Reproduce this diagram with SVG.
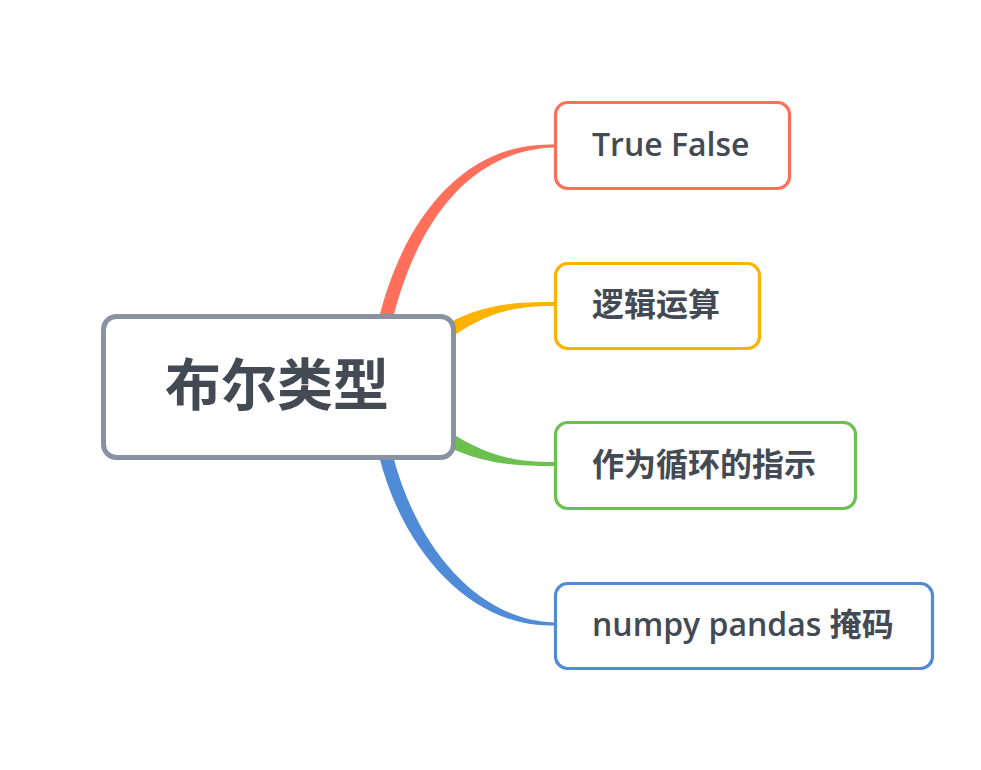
<svg xmlns="http://www.w3.org/2000/svg" width="981" height="770" viewBox="0 0 981 770">
  <style>
    .box { fill: #ffffff; stroke-width: 3.2; }
    .root { fill: #ffffff; stroke: #8892a3; stroke-width: 5; }
    .t { font-family: "Open Sans", "Noto Sans CJK SC", sans-serif; font-size: 32px; font-weight: 600; fill: #434a54; }
    .cjk { font-family: "Noto Sans CJK SC", sans-serif; font-weight: bold; }
    .rt { font-family: "Noto Sans CJK SC", sans-serif; font-weight: bold; font-size: 56px; fill: #434a54; }
  </style>
  <rect width="981" height="770" fill="#ffffff"/>
  <g id="connectors">
    <path d="M 379 318 C 405 214, 467 142, 554 144.5 L 554 147.5 C 473 150, 419 216, 393 318 Z" fill="#ff6f5b"/>
    <path d="M 448 323 C 483 305, 510 302, 554 302 L 554 306 C 510 306, 487 314, 456 334 Z" fill="#ffb300"/>
    <path d="M 456 436 C 487 454, 510 462, 554 462 L 554 466 C 510 466, 483 463, 448 447 Z" fill="#6cc04f"/>
    <path d="M 379 456 C 403 552, 472 628, 554 625.5 L 554 622.5 C 478 620, 417 548, 393 456 Z" fill="#4f8bd6"/>
  </g>
  <g id="root">
    <rect class="root" x="103.5" y="316.5" width="350" height="141" rx="13"/>
    <text class="rt" x="277" y="405" text-anchor="middle">布尔类型</text>
  </g>
  <g id="n1">
    <rect class="box" x="555.5" y="102.5" width="234" height="86" rx="12" stroke="#ff6f5b"/>
    <text class="t" x="592" y="156">True False</text>
  </g>
  <g id="n2">
    <rect class="box" x="555.5" y="263.5" width="204" height="85" rx="12" stroke="#ffb300"/>
    <text class="t cjk" x="592" y="316">逻辑运算</text>
  </g>
  <g id="n3">
    <rect class="box" x="555.5" y="422.5" width="300" height="86" rx="12" stroke="#6cc04f"/>
    <text class="t cjk" x="592" y="476">作为循环的指示</text>
  </g>
  <g id="n4">
    <rect class="box" x="555.5" y="583.5" width="377" height="85" rx="12" stroke="#4f8bd6"/>
    <text class="t" x="592" y="636">numpy pandas <tspan class="cjk">掩码</tspan></text>
  </g>
</svg>
